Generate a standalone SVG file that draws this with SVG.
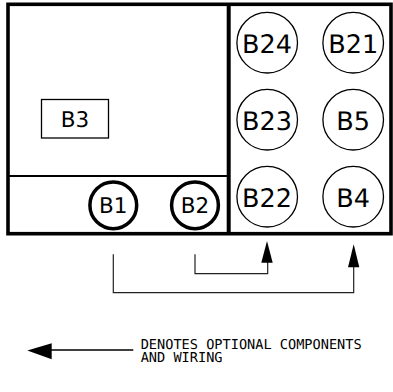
<svg xmlns="http://www.w3.org/2000/svg" width="393" height="392" viewBox="0 0 393 392">
<style>
text{text-rendering:geometricPrecision}
.f{fill:#fff;stroke:#000;stroke-width:1.3}
.c{fill:#fff;stroke:#000;stroke-width:1.3}
.t{fill:#fff;stroke:#000;stroke-width:3.5}
.l{font-family:"DejaVu Sans",sans-serif;font-size:25.500px;text-anchor:middle;fill:#000}
.s{font-size:21.500px}
.m{font-family:"DejaVu Sans Mono",monospace;font-size:13.600px;fill:#000}
.w{fill:none;stroke:#222;stroke-width:1.2}
</style>
<g id="frame">
<rect x="8" y="4.300" width="383" height="229.400" fill="#fff" stroke="#000" stroke-width="3.600"/>
<path d="M228.700 4V234" stroke="#000" stroke-width="4" fill="none"/>
<path d="M8 176H228" stroke="#000" stroke-width="2" fill="none"/>
</g>
<g id="B3"><rect x="41.500" y="99.500" width="67" height="38.500" class="f"/><text x="75" y="126.700" class="l s">B3</text></g>
<g id="B24"><circle cx="267.200" cy="42.700" r="30.300" class="c"/><text x="267" y="52.700" class="l">B24</text></g>
<g id="B21"><circle cx="353.200" cy="42.700" r="30.300" class="c"/><text x="353.200" y="52.700" class="l">B21</text></g>
<g id="B23"><circle cx="267.200" cy="119.700" r="30.300" class="c"/><text x="267" y="129.700" class="l">B23</text></g>
<g id="B5"><circle cx="353.200" cy="119.700" r="30.300" class="c"/><text x="353.200" y="129.700" class="l">B5</text></g>
<g id="B22"><circle cx="267.200" cy="196.700" r="30.300" class="c"/><text x="267" y="206.700" class="l">B22</text></g>
<g id="B4"><circle cx="353.200" cy="196.700" r="30.300" class="c"/><text x="353.200" y="206.700" class="l">B4</text></g>
<g id="B1"><circle cx="113.300" cy="205.300" r="23.400" class="t"/><text x="113.300" y="213.300" class="l s">B1</text></g>
<g id="B2"><circle cx="195" cy="205.300" r="23.400" class="t"/><text x="195" y="213.300" class="l s">B2</text></g>
<g id="connectors">
<path d="M195 254.300V273.700H267.700V262" class="w"/>
<path d="M113.300 254.300V292.700H353.700V266" class="w"/>
<path d="M267 241L272.700 262.700H261.300Z"/>
<path d="M353.700 244.300L359.300 267.300H348Z"/>
<path d="M133.300 350H50" fill="none" stroke="#000" stroke-width="1.500"/>
<path d="M27.300 350.500L51.700 343.300V359.300Z"/>
</g>
<g id="legend">
<text class="m"><tspan x="140.700" y="349">DENOTES OPTIONAL COMPONENTS</tspan><tspan x="140.700" y="362.300">AND WIRING</tspan></text>
</g>
</svg>
